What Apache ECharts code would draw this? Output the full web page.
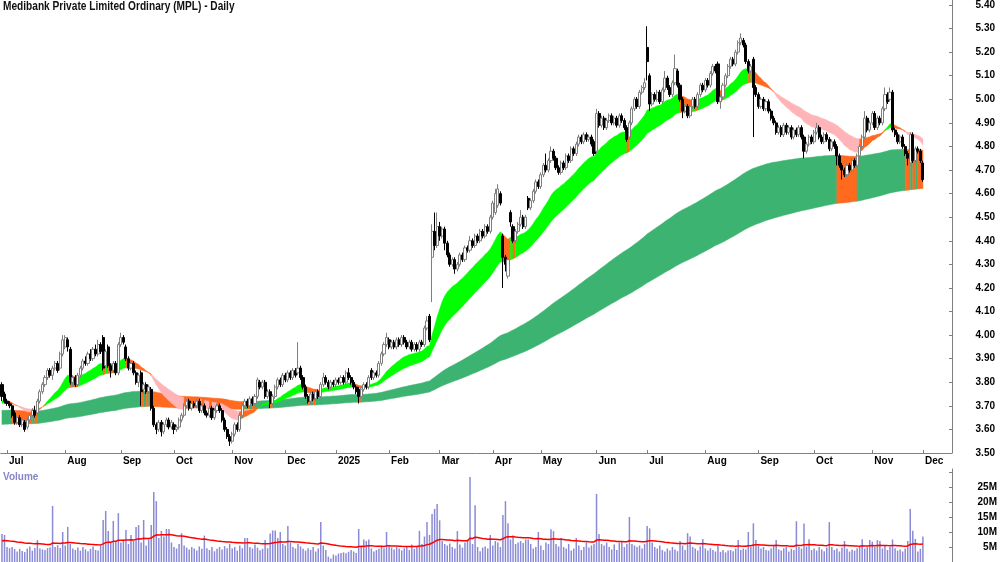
<!DOCTYPE html>
<html><head><meta charset="utf-8">
<script src="https://cdn.jsdelivr.net/npm/echarts@6/dist/echarts.min.js"></script>
<style>html,body{margin:0;padding:0;background:#fff}#c{width:1000px;height:562px}</style>
</head><body><div id="c"></div>
<script>
// ---------- data ----------
const titleText = 'Medibank Private Limited Ordinary (MPL) - Daily';
const startDate = '2024-06-27';
const endDate = '2025-12-01';
const holidays = ['2024-12-25','2024-12-26','2025-01-01','2025-01-27','2025-04-18','2025-04-21','2025-04-25','2025-06-09'];
const padDays = 11;
const monthNames = ['Jan','Feb','Mar','Apr','May','Jun','Jul','Aug','Sep','Oct','Nov','Dec'];

// [open, close, low, high]
const candles = [
// Jun 2024
[3.79,3.74,3.72,3.80],[3.75,3.72,3.71,3.76],
// Jul 2024
[3.72,3.71,3.70,3.73],[3.71,3.70,3.69,3.72],[3.70,3.66,3.65,3.71],[3.67,3.63,3.62,3.68],[3.63,3.65,3.62,3.66],
[3.65,3.62,3.61,3.66],[3.62,3.64,3.61,3.65],[3.63,3.60,3.59,3.64],[3.61,3.64,3.60,3.65],[3.64,3.66,3.63,3.67],
[3.66,3.68,3.65,3.69],[3.68,3.66,3.65,3.70],[3.67,3.72,3.66,3.73],[3.72,3.76,3.71,3.77],[3.76,3.79,3.75,3.80],
[3.79,3.82,3.78,3.83],[3.82,3.85,3.81,3.86],[3.85,3.83,3.82,3.86],[3.83,3.86,3.81,3.87],[3.86,3.88,3.85,3.89],
[3.88,3.85,3.84,3.89],[3.86,3.92,3.85,3.93],[3.92,3.98,3.91,4.00],
// Aug 2024
[3.95,3.99,3.94,4.00],[3.98,3.95,3.93,3.99],[3.94,3.80,3.79,3.95],[3.80,3.82,3.78,3.83],[3.82,3.79,3.78,3.83],
[3.79,3.83,3.78,3.84],[3.83,3.86,3.82,3.87],[3.86,3.89,3.85,3.90],[3.89,3.88,3.87,3.91],[3.88,3.92,3.87,3.93],
[3.92,3.90,3.89,3.94],[3.90,3.94,3.89,3.95],[3.94,3.92,3.91,3.96],[3.92,3.96,3.91,3.98],[3.96,3.93,3.92,3.97],
[3.99,3.86,3.85,4.00],[3.87,3.93,3.86,3.94],[3.95,3.87,3.86,3.96],[3.87,3.85,3.82,3.88],[3.85,3.88,3.84,3.89],
[3.88,3.84,3.83,3.89],[3.84,3.96,3.83,3.97],
// Sep 2024
[3.96,3.99,3.95,4.01],[3.99,3.97,3.96,4.00],[3.95,3.90,3.89,3.96],[3.90,3.86,3.85,3.91],[3.86,3.88,3.85,3.89],
[3.88,3.84,3.83,3.89],[3.84,3.80,3.79,3.85],[3.80,3.83,3.78,3.84],[3.84,3.76,3.70,3.85],[3.77,3.79,3.75,3.80],
[3.79,3.76,3.75,3.80],[3.76,3.78,3.75,3.79],[3.77,3.69,3.68,3.78],[3.69,3.62,3.61,3.70],[3.62,3.60,3.58,3.63],
[3.60,3.63,3.59,3.64],[3.63,3.59,3.57,3.64],[3.59,3.62,3.58,3.63],[3.62,3.64,3.61,3.65],[3.64,3.61,3.60,3.65],
[3.61,3.63,3.60,3.64],
// Oct 2024
[3.62,3.60,3.58,3.63],[3.60,3.61,3.59,3.62],[3.61,3.64,3.60,3.65],[3.64,3.66,3.63,3.67],[3.66,3.70,3.65,3.71],
[3.70,3.72,3.69,3.73],[3.72,3.69,3.68,3.73],[3.69,3.71,3.68,3.72],[3.71,3.70,3.69,3.72],[3.70,3.72,3.69,3.73],
[3.72,3.68,3.67,3.73],[3.68,3.70,3.67,3.71],[3.70,3.67,3.66,3.71],[3.67,3.66,3.65,3.68],[3.66,3.69,3.65,3.70],
[3.69,3.65,3.64,3.70],[3.65,3.68,3.64,3.69],[3.68,3.70,3.67,3.71],[3.70,3.68,3.67,3.71],[3.68,3.64,3.63,3.69],
[3.64,3.60,3.59,3.65],[3.60,3.57,3.56,3.61],[3.57,3.55,3.53,3.58],
// Nov 2024
[3.55,3.58,3.54,3.59],[3.58,3.62,3.57,3.63],[3.62,3.60,3.59,3.63],[3.60,3.66,3.59,3.67],[3.66,3.70,3.65,3.71],
[3.70,3.72,3.69,3.73],[3.72,3.70,3.69,3.73],[3.70,3.73,3.69,3.74],[3.73,3.71,3.70,3.74],[3.71,3.74,3.70,3.75],
[3.74,3.81,3.73,3.82],[3.80,3.78,3.77,3.81],[3.78,3.80,3.77,3.81],[3.80,3.74,3.73,3.81],[3.74,3.76,3.73,3.77],
[3.76,3.71,3.69,3.77],[3.71,3.74,3.70,3.75],[3.74,3.78,3.73,3.79],[3.78,3.81,3.77,3.82],[3.81,3.79,3.78,3.82],
[3.79,3.83,3.78,3.84],
// Dec 2024
[3.83,3.81,3.80,3.84],[3.81,3.84,3.80,3.85],[3.84,3.82,3.81,3.85],[3.82,3.85,3.81,3.86],[3.85,3.83,3.82,3.86],
[3.84,3.86,3.83,3.97],[3.86,3.82,3.81,3.87],[3.82,3.78,3.77,3.83],[3.78,3.74,3.73,3.79],[3.74,3.72,3.71,3.75],
[3.72,3.75,3.71,3.76],[3.75,3.73,3.72,3.76],[3.73,3.76,3.72,3.77],[3.76,3.74,3.73,3.77],[3.74,3.79,3.73,3.80],
[3.79,3.82,3.78,3.84],[3.82,3.80,3.79,3.83],[3.80,3.78,3.77,3.81],[3.78,3.80,3.77,3.81],[3.80,3.79,3.78,3.81],
// Jan 2025
[3.79,3.81,3.78,3.82],[3.81,3.80,3.79,3.82],[3.80,3.82,3.79,3.83],[3.82,3.80,3.79,3.83],[3.80,3.84,3.79,3.85],
[3.84,3.82,3.81,3.86],[3.82,3.80,3.79,3.83],[3.80,3.78,3.77,3.81],[3.78,3.76,3.75,3.79],[3.77,3.74,3.71,3.78],
[3.74,3.77,3.73,3.78],[3.77,3.79,3.76,3.80],[3.79,3.78,3.77,3.80],[3.78,3.82,3.77,3.83],[3.85,3.82,3.81,3.86],
[3.82,3.84,3.81,3.85],[3.84,3.83,3.82,3.85],[3.83,3.88,3.82,3.89],[3.88,3.92,3.87,3.93],[3.92,3.96,3.91,3.97],
[3.96,3.99,3.95,4.01],
// Feb 2025
[3.98,3.95,3.94,3.99],[3.95,3.97,3.94,3.98],[3.97,3.95,3.94,3.98],[3.95,3.98,3.94,3.99],[3.98,3.96,3.95,3.99],
[3.96,3.99,3.95,4.00],[3.99,3.97,3.96,4.00],[3.97,3.95,3.94,3.98],[3.95,3.97,3.94,3.98],[3.97,3.94,3.93,3.98],
[3.94,3.96,3.93,3.97],[3.96,3.94,3.93,3.97],[3.94,3.97,3.93,3.98],[3.97,3.96,3.95,3.98],[3.96,4.03,3.95,4.04],
[4.03,4.06,4.02,4.08],[4.08,3.98,3.97,4.09],[4.33,4.44,4.14,4.47],[4.44,4.38,4.36,4.52],[4.38,4.46,4.37,4.52],
// Mar 2025
[4.46,4.42,4.40,4.48],[4.42,4.45,4.41,4.46],[4.45,4.39,4.36,4.46],[4.39,4.34,4.33,4.40],[4.34,4.30,4.29,4.35],
[4.30,4.32,4.29,4.33],[4.32,4.28,4.26,4.33],[4.28,4.30,4.27,4.31],[4.30,4.34,4.29,4.35],[4.34,4.32,4.31,4.35],
[4.32,4.37,4.31,4.38],[4.37,4.36,4.35,4.38],[4.36,4.40,4.35,4.42],[4.40,4.38,4.37,4.41],[4.38,4.42,4.37,4.43],
[4.42,4.40,4.39,4.43],[4.40,4.44,4.39,4.45],[4.44,4.42,4.41,4.45],[4.42,4.46,4.41,4.47],[4.46,4.44,4.43,4.47],
[4.44,4.50,4.43,4.51],
// Apr 2025
[4.50,4.56,4.49,4.57],[4.52,4.60,4.51,4.62],[4.55,4.62,4.54,4.64],[4.60,4.56,4.55,4.61],[4.42,4.33,4.20,4.43],
[4.33,4.30,4.27,4.34],[4.25,4.32,4.24,4.33],[4.52,4.48,4.46,4.53],[4.46,4.40,4.39,4.47],[4.40,4.44,4.39,4.45],
[4.44,4.47,4.43,4.48],[4.47,4.50,4.46,4.53],[4.50,4.46,4.45,4.51],[4.46,4.50,4.45,4.51],[4.58,4.54,4.53,4.59],
[4.54,4.57,4.53,4.58],[4.57,4.61,4.56,4.62],[4.61,4.65,4.60,4.66],[4.65,4.63,4.62,4.66],
// May 2025
[4.63,4.68,4.62,4.69],[4.68,4.72,4.67,4.73],[4.72,4.70,4.69,4.77],[4.70,4.74,4.69,4.75],[4.74,4.78,4.73,4.80],
[4.78,4.75,4.74,4.79],[4.75,4.71,4.70,4.76],[4.71,4.69,4.68,4.72],[4.69,4.73,4.68,4.74],[4.73,4.71,4.70,4.74],
[4.71,4.76,4.70,4.77],[4.76,4.74,4.73,4.77],[4.74,4.79,4.73,4.80],[4.79,4.77,4.76,4.80],[4.77,4.81,4.76,4.82],
[4.81,4.84,4.80,4.85],[4.84,4.82,4.81,4.85],[4.82,4.85,4.81,4.86],[4.85,4.83,4.82,4.86],[4.83,4.84,4.82,4.85],
[4.84,4.81,4.80,4.85],[4.82,4.77,4.76,4.83],
// Jun 2025
[4.78,4.94,4.77,4.96],[4.94,4.89,4.88,4.95],[4.89,4.92,4.88,4.93],[4.92,4.88,4.87,4.93],[4.88,4.91,4.87,4.92],
[4.91,4.93,4.90,4.94],[4.93,4.90,4.89,4.94],[4.90,4.92,4.89,4.93],[4.92,4.89,4.88,4.93],[4.89,4.93,4.88,4.94],
[4.93,4.91,4.90,4.94],[4.91,4.88,4.87,4.92],[4.88,4.83,4.82,4.89],[4.84,4.90,4.83,4.91],[4.90,4.96,4.89,4.97],
[4.96,5.00,4.95,5.01],[5.00,4.97,4.96,5.01],[4.97,5.03,4.96,5.04],[5.03,5.05,5.02,5.06],[5.05,5.07,5.04,5.09],
// Jul 2025
[5.22,5.16,5.08,5.31],[5.10,4.98,4.95,5.11],[4.98,5.02,4.97,5.03],[5.02,5.00,4.99,5.03],[5.00,5.03,4.99,5.04],
[5.03,4.99,4.98,5.04],[4.99,5.04,4.98,5.05],[5.04,5.09,5.03,5.12],[5.09,5.05,5.04,5.10],[5.05,5.02,5.01,5.06],
[5.02,5.07,5.01,5.08],[5.07,5.13,5.06,5.19],[5.12,5.06,5.05,5.13],[5.06,5.00,4.99,5.07],[5.00,4.95,4.92,5.01],
[4.95,4.97,4.94,4.98],[4.97,4.93,4.92,4.98],[4.93,4.97,4.92,4.98],[4.97,5.00,4.96,5.01],[5.00,4.97,4.96,5.01],
[4.97,5.02,4.96,5.03],[5.02,5.06,5.01,5.07],[5.06,5.04,5.03,5.07],
// Aug 2025
[5.04,5.08,5.03,5.09],[5.08,5.06,5.05,5.09],[5.06,5.11,5.05,5.12],[5.11,5.14,5.10,5.15],[5.14,5.12,5.11,5.15],
[5.15,4.99,4.98,5.16],[4.99,5.01,4.96,5.02],[5.01,5.06,5.00,5.07],[5.06,5.10,5.05,5.11],[5.10,5.14,5.09,5.15],
[5.14,5.17,5.13,5.18],[5.17,5.15,5.14,5.18],[5.15,5.20,5.14,5.21],[5.20,5.24,5.19,5.25],[5.24,5.26,5.23,5.28],
[5.25,5.23,5.22,5.26],[5.23,5.16,5.15,5.24],[5.16,5.12,5.11,5.17],[5.12,5.14,5.11,5.15],[5.17,5.05,4.84,5.18],
[5.05,5.02,5.01,5.06],
// Sep 2025
[5.02,4.97,4.96,5.03],[4.97,5.00,4.96,5.01],[5.00,4.96,4.95,5.01],[4.96,4.99,4.95,5.00],[4.99,4.95,4.94,5.00],
[4.95,4.92,4.91,4.96],[4.92,4.90,4.89,4.93],[4.90,4.86,4.85,4.91],[4.86,4.88,4.85,4.89],[4.88,4.85,4.84,4.89],
[4.85,4.89,4.84,4.90],[4.89,4.86,4.85,4.90],[4.86,4.88,4.85,4.89],[4.88,4.84,4.83,4.89],[4.84,4.87,4.83,4.88],
[4.87,4.85,4.84,4.88],[4.85,4.88,4.84,4.89],[4.88,4.84,4.83,4.89],[4.84,4.78,4.75,4.85],[4.78,4.81,4.77,4.82],
[4.81,4.84,4.80,4.85],[4.84,4.82,4.81,4.85],
// Oct 2025
[4.82,4.86,4.81,4.87],[4.86,4.88,4.85,4.90],[4.88,4.84,4.83,4.89],[4.84,4.82,4.81,4.85],[4.82,4.85,4.81,4.86],
[4.85,4.83,4.82,4.86],[4.83,4.79,4.78,4.84],[4.79,4.82,4.78,4.83],[4.82,4.80,4.79,4.83],[4.80,4.76,4.72,4.81],
[4.76,4.72,4.71,4.77],[4.72,4.70,4.66,4.73],[4.70,4.68,4.67,4.71],[4.68,4.72,4.67,4.73],[4.72,4.70,4.69,4.73],
[4.70,4.74,4.69,4.75],[4.74,4.72,4.71,4.75],[4.72,4.76,4.71,4.77],[4.76,4.80,4.75,4.81],[4.80,4.84,4.79,4.85],
[4.84,4.92,4.83,4.95],[4.92,4.87,4.86,4.93],[4.87,4.90,4.86,4.91],
// Nov 2025
[4.90,4.94,4.89,4.95],[4.94,4.88,4.87,4.95],[4.88,4.92,4.87,4.93],[4.92,4.90,4.89,4.93],[4.90,4.96,4.89,4.97],
[4.96,5.02,4.95,5.05],[5.02,4.99,4.98,5.03],[5.00,5.03,4.99,5.05],[5.03,4.87,4.86,5.04],[4.87,4.85,4.84,4.88],
[4.85,4.82,4.81,4.86],[4.82,4.84,4.81,4.85],[4.84,4.80,4.79,4.85],[4.80,4.77,4.76,4.81],[4.77,4.75,4.72,4.78],
[4.73,4.85,4.72,4.86],[4.85,4.74,4.73,4.86],[4.74,4.79,4.73,4.80],[4.79,4.78,4.77,4.80],[4.78,4.74,4.73,4.79],
// Dec 2025
[4.73,4.66,4.65,4.74]
];

// volume in millions
const volumes = [
9.3,9.0,
5.0,4.6,5.0,4.3,3.5,4.4,3.7,3.3,4.5,5.2,3.8,4.7,7.3,4.5,4.2,4.0,4.6,4.8,18.7,5.0,5.6,4.7,10.0,
5.5,11.7,6.0,4.5,4.0,4.8,3.8,5.0,4.2,3.6,4.4,5.2,4.0,3.8,5.5,14.0,17.0,10.3,6.5,13.7,7.0,16.3,
6.5,7.5,10.7,6.0,9.0,7.0,11.7,12.3,6.5,14.0,5.5,7.5,12.3,23.3,20.3,8.0,10.4,8.5,11.0,11.0,6.5,
5.0,4.5,6.0,9.6,5.5,4.8,4.2,5.0,4.5,3.8,5.2,4.4,8.8,4.6,4.0,5.0,3.6,4.4,5.0,4.2,5.3,4.6,6.0,
4.5,5.0,3.8,5.5,4.6,8.0,8.0,5.0,4.5,5.8,4.8,3.9,4.4,7.3,4.6,9.5,10.5,10.5,8.0,10.0,6.0,
5.5,12.0,6.5,5.0,4.5,6.0,5.2,4.4,3.8,4.6,4.0,5.0,3.5,4.5,13.3,5.5,4.0,1.8,1.2,2.5,
2.2,2.8,3.0,3.2,2.9,3.4,4.0,3.5,3.0,11.0,5.5,7.5,7.0,7.5,4.5,3.5,4.0,4.4,5.0,4.6,10.0,
5.5,4.8,4.2,5.0,4.5,3.9,4.6,5.2,4.0,5.8,4.4,5.0,10.4,6.0,8.5,13.3,9.0,16.0,17.7,19.3,
13.9,7.0,6.0,5.5,6.2,5.0,4.5,10.3,5.8,4.8,6.5,7.5,28.3,6.0,18.9,5.0,3.6,4.8,5.2,4.5,9.0,
5.5,7.0,6.5,5.0,15.7,20.3,12.9,7.5,8.9,6.0,6.5,7.0,6.3,7.5,7.5,6.0,4.5,5.0,10.0,
5.5,4.0,6.5,6.0,10.9,10.3,6.0,5.2,8.0,5.0,4.5,6.0,3.8,4.5,8.0,5.5,4.0,5.0,6.5,4.8,5.5,6.0,
22.7,9.3,6.0,5.5,6.5,5.0,4.2,5.8,4.0,6.5,7.0,5.0,6.0,15.0,6.0,5.5,5.0,5.5,4.5,6.0,
12.0,11.2,6.5,5.0,4.5,5.5,4.0,3.5,4.5,3.8,5.0,4.2,3.6,7.0,5.5,4.0,9.6,8.5,5.0,4.5,3.8,5.2,7.7,
4.5,3.8,4.6,4.0,3.5,5.5,3.4,4.0,3.2,3.8,4.0,3.6,4.5,7.3,4.0,4.5,4.2,10.0,5.0,12.9,7.3,
5.5,4.5,5.0,4.0,3.8,4.5,5.5,7.3,4.2,3.8,4.6,5.0,3.5,4.4,4.0,13.6,5.0,4.5,12.8,5.2,7.6,4.0,
4.5,3.8,5.0,4.2,3.6,4.8,13.3,5.0,4.0,4.5,3.5,4.8,7.0,4.4,3.5,4.2,3.8,4.6,5.0,7.6,4.5,5.0,7.3,
6.8,5.0,7.3,7.0,4.5,5.5,4.0,5.0,7.5,4.6,3.8,4.2,3.5,4.5,7.0,17.7,10.4,7.7,3.5,4.4,
8.5
];

const priceAxis = {min: 3.5, step: 0.1, pxPerUnit: 236};
const volumeAxis = {min: 0, max: 31, step: 5};
const ribbonPeriods = {shortFast: 20, shortSlow: 40, longFast: 150, longSlow: 250};
const ribbonSeeds = {shortFast: 3.72, shortSlow: 3.71, longFast: 3.68, longSlow: 3.62};
const volMaPeriod = 50, volMaSeed = 7.0;

// ---------- build ----------
function iso(d){ return d.toISOString().slice(0,10); }
const dates = [];
(function(){
  let d = new Date(startDate + 'T00:00:00Z');
  const end = new Date(endDate + 'T00:00:00Z');
  while (d <= end) {
    const w = d.getUTCDay(), s = iso(d);
    if (w !== 0 && w !== 6 && holidays.indexOf(s) < 0) dates.push(s);
    d = new Date(d.getTime() + 86400000);
  }
  let n = 0;
  while (n < padDays) {
    const w = d.getUTCDay();
    if (w !== 0 && w !== 6) { dates.push(iso(d)); n++; }
    d = new Date(d.getTime() + 86400000);
  }
})();
const N = candles.length;
const closes = candles.map(c => c[1]);
function ema(vals, n, seed){ const a = 2/(n+1); let e = seed; return vals.map(v => (e = e + a*(v - e))); }
const sF = ema(closes, ribbonPeriods.shortFast, ribbonSeeds.shortFast);
const sS = ema(closes, ribbonPeriods.shortSlow, ribbonSeeds.shortSlow);
const lF = ema(closes, ribbonPeriods.longFast, ribbonSeeds.longFast);
const lS = ema(closes, ribbonPeriods.longSlow, ribbonSeeds.longSlow);
const volMa = ema(volumes, volMaPeriod, volMaSeed);

// ribbon: runs of equal state -> one polygon each
function ribbonRuns(f, s){
  const st = [];
  for (let i = 0; i < N - 1; i++) {
    const bull = f[i] > s[i], c = closes[i];
    st.push(bull && c > f[i] ? 0 : (!bull && c < f[i] ? 1 : 2));
  }
  const runs = [];
  let a = 0;
  for (let i = 1; i <= st.length; i++) {
    if (i === st.length || st[i] !== st[a]) {
      let lo = Infinity, hi = -Infinity;
      for (let k = a; k <= i; k++) { lo = Math.min(lo, f[k], s[k]); hi = Math.max(hi, f[k], s[k]); }
      runs.push([a, i, st[a], lo, hi]);
      a = i;
    }
  }
  return runs;
}
function ribbonSeries(f, s, colors, z){
  return {
    type: 'custom', xAxisIndex: 0, yAxisIndex: 0, z: z, silent: true,
    encode: {x: [0,1], y: [3,4]},
    data: ribbonRuns(f, s),
    renderItem: function(params, api){
      const a = api.value(0), b = api.value(1);
      const pts = [];
      for (let k = a; k <= b; k++) pts.push(api.coord([k, Math.max(f[k], s[k])]));
      for (let k = b; k >= a; k--) pts.push(api.coord([k, Math.min(f[k], s[k])]));
      const col = colors[api.value(2)];
      return {type: 'polygon', shape: {points: pts}, style: {fill: col, stroke: col, lineWidth: 0.5}};
    }
  };
}
function isMonthStart(idx){
  if (idx <= 0 || idx >= N) return false;
  return dates[idx].slice(5,7) !== dates[idx-1].slice(5,7);
}
function monthLabel(v){
  const m = parseInt(v.slice(5,7),10) - 1;
  return m === 0 ? v.slice(0,4) : monthNames[m];
}
const font = 'Liberation Sans, Arial, sans-serif';
const gridLeft = 0.7, gridWidth = 951.3;
const priceMax = priceAxis.min + 453/priceAxis.pxPerUnit;

const chart = echarts.init(document.getElementById('c'), null, {renderer: 'canvas'});
chart.setOption({
  animation: false,
  backgroundColor: '#ffffff',
  graphic: [
    {type: 'text', x: 3, y: 1, scaleX: 0.845, style: {text: titleText, font: 'bold 12px Liberation Sans, Arial, sans-serif', fill: '#111', textVerticalAlign: 'top'}},
    {type: 'text', x: 3, y: 472, style: {text: 'Volume', font: 'bold 10px Liberation Sans, Arial, sans-serif', fill: '#8585c8', textVerticalAlign: 'top'}}
  ],
  grid: [
    {left: gridLeft, width: gridWidth, top: 0, height: 453},
    {left: gridLeft, width: gridWidth, top: 469, height: 93.5}
  ],
  xAxis: [
    {type: 'category', gridIndex: 0, data: dates, boundaryGap: true,
     axisLine: {lineStyle: {color: '#808080', width: 1}},
     axisTick: {show: true, inside: true, length: 3, alignWithLabel: true, interval: isMonthStart, lineStyle: {color: '#808080'}},
     axisLabel: {interval: isMonthStart, formatter: monthLabel, align: 'left', margin: 3, padding: [0,0,0,2],
       fontFamily: font, fontSize: 10, fontWeight: 'bold', color: '#000'},
     splitLine: {show: false}},
    {type: 'category', gridIndex: 1, data: dates, boundaryGap: true, position: 'top',
     axisLine: {lineStyle: {color: '#808080', width: 1}}, axisTick: {show: false}, axisLabel: {show: false}, splitLine: {show: false}}
  ],
  yAxis: [
    {type: 'value', gridIndex: 0, position: 'right', min: priceAxis.min, max: priceMax, interval: priceAxis.step,
     axisLine: {show: true, lineStyle: {color: '#808080'}},
     axisTick: {show: true, inside: true, length: 3, lineStyle: {color: '#808080'}},
     axisLabel: {formatter: v => v.toFixed(2), align: 'right', margin: 43, showMaxLabel: false,
       fontFamily: font, fontSize: 10, fontWeight: 'bold', color: '#000'},
     splitLine: {show: false}},
    {type: 'value', gridIndex: 1, position: 'right', min: volumeAxis.min, max: volumeAxis.max, interval: volumeAxis.step,
     axisLine: {show: true, lineStyle: {color: '#808080'}},
     axisTick: {show: true, inside: true, length: 3, lineStyle: {color: '#808080'}},
     axisLabel: {formatter: v => (v > 0 && v < 30) ? v + 'M' : '', align: 'right', margin: 45, showMaxLabel: false,
       fontFamily: font, fontSize: 10, fontWeight: 'bold', color: '#000'},
     splitLine: {show: false}}
  ],
  series: [
    ribbonSeries(lF, lS, ['#3cb371', '#e06666', '#ff6a1f'], 1),
    ribbonSeries(sF, sS, ['#00ff00', '#ffb5b8', '#ff6a1f'], 2),
    {type: 'candlestick', xAxisIndex: 0, yAxisIndex: 0, z: 3, data: candles, barWidth: 2.6,
     itemStyle: {color: '#ffffff', color0: '#000000', borderColor: '#7f7f7f', borderColor0: '#000000', borderWidth: 1}},
    {type: 'bar', xAxisIndex: 1, yAxisIndex: 1, data: volumes, barWidth: 1.5, itemStyle: {color: '#8a8ad6'}},
    {type: 'line', xAxisIndex: 1, yAxisIndex: 1, data: volMa.map(v => +v.toFixed(3)), symbol: 'none',
     lineStyle: {color: '#ff0000', width: 1.5}, z: 4}
  ]
});
</script></body></html>
